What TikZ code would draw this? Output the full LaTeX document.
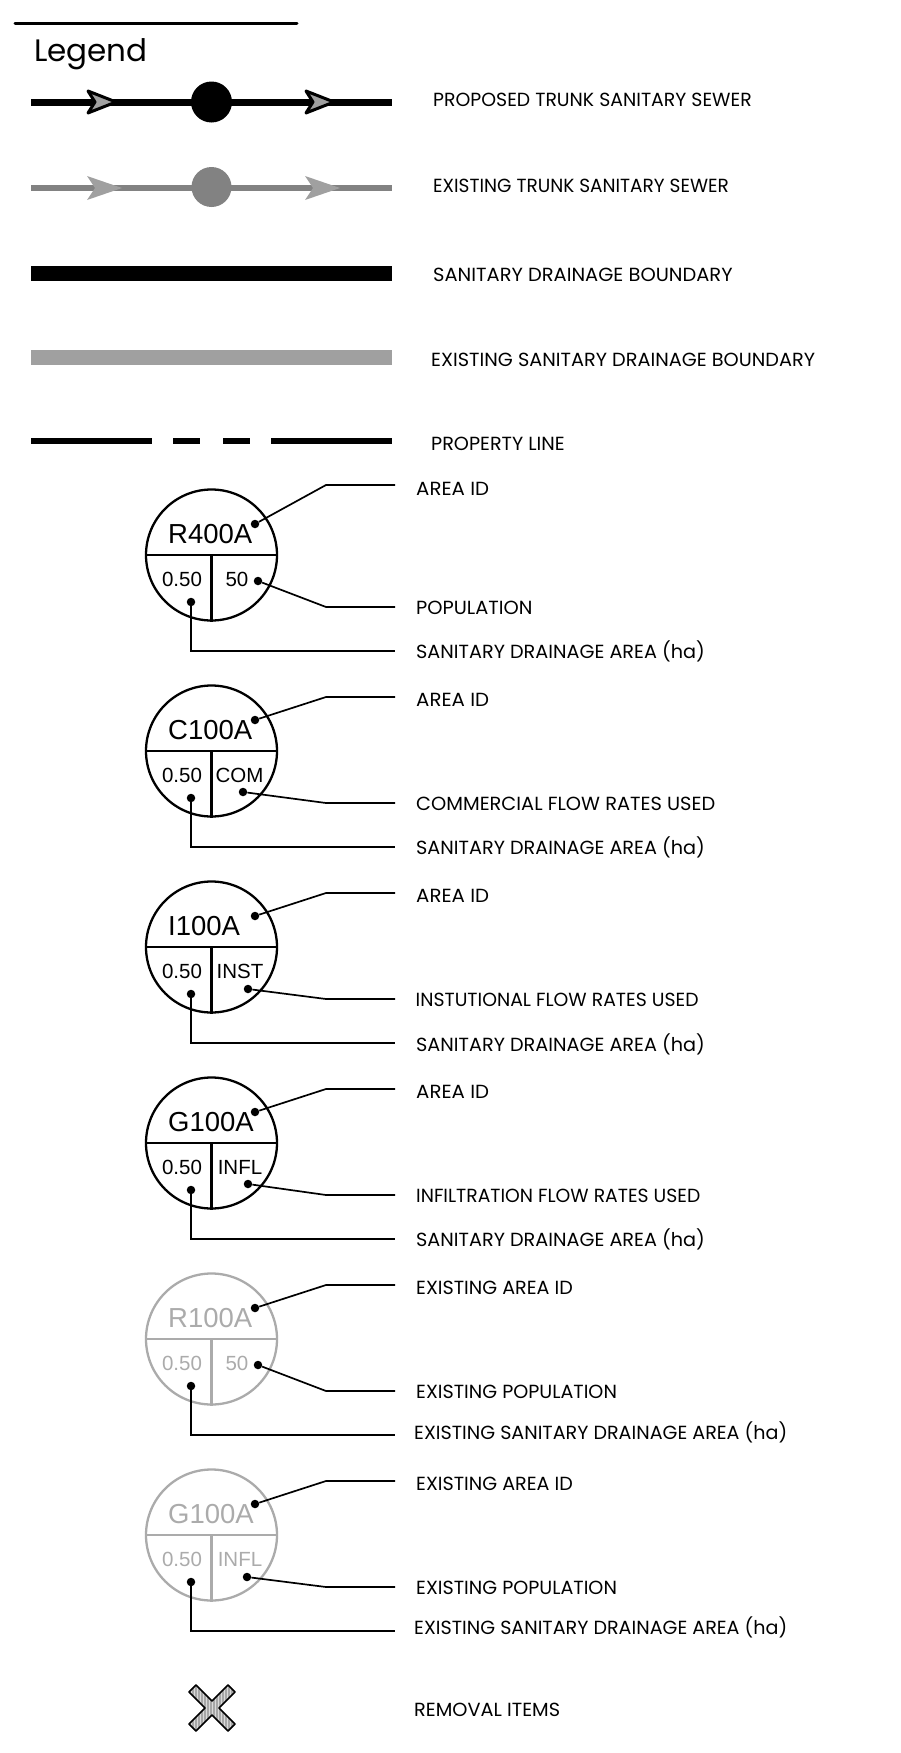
\documentclass[tikz,border=0pt]{standalone}
\usepackage{fontspec}
\setmainfont{Poppins}
\newfontfamily\symbfont{Liberation Sans}
\definecolor{exgray}{HTML}{828282}
\definecolor{lightgray}{HTML}{A0A0A0}
\definecolor{symbgray}{HTML}{ABABAB}
\tikzset{
  lab/.style={anchor=west,inner sep=0pt,font=\fontsize{19}{19}\selectfont},
  leader/.style={draw=black,line width=1.7pt},
  dotmark/.style={circle,fill=black,inner sep=0pt,minimum size=8.5pt},
  symbid/.style={anchor=west,inner sep=0pt,font=\symbfont\fontsize{27.5}{27.5}\selectfont},
  symbval/.style={inner sep=0pt,font=\symbfont\fontsize{20.5}{20.5}\selectfont},
  chevron/.style={line width=3pt,line join=round},
}
\begin{document}
\begin{tikzpicture}[x=1pt,y=-1pt]
\useasboundingbox (0,0) rectangle (900,1753);

% Titre
\draw [line width=3pt,line cap=round] (15,24) -- (297,24);
\node [anchor=base west,inner sep=0pt,font=\fontsize{31}{31}\selectfont] (title) at (34,62) {Legend};

% Trunk sewers
\coordinate (pl) at (31,102);  \coordinate (pr) at (392,102);
\coordinate (el) at (31,188);  \coordinate (er) at (392,188);
\draw [line width=7pt] (pl) -- (pr);
\draw [line width=6pt,exgray] (el) -- (er);
\node [circle,fill=black,inner sep=0pt,minimum size=41pt] (pmh) at (211.5,102) {};
\node [circle,fill=exgray,inner sep=0pt,minimum size=40pt] (emh) at (211.5,187) {};
\foreach \xsh in {0,218} {
\draw [xshift=\xsh,chevron,fill=lightgray] (88,91) -- (116,102) -- (88,113) -- (95,102) -- cycle;
\path [xshift=\xsh,fill=lightgray] (87,176) -- (122,188) -- (87,200) -- (95,188) -- cycle;
}

% Boundaries
\fill (31,266) rectangle (392,281);
\fill [lightgray] (31,350) rectangle (392,365);
\foreach \xa/\xb in {31/152,173/200,223/250,271/392}
\fill (\xa,438) rectangle (\xb,444);

% Symbols
\foreach \cy/\aid/\val/\vx/\col/\topy/\dx/\dy [count=\i] in {
  555/R400A/50/237/black/-70/258/26,
  751/C100A/COM/239.5/black/-54/243/41,
  947/I100A/INST/240/black/-54/248/42,
  1143/G100A/INFL/240/black/-54/248/41,
  1339/R100A/50/237/symbgray/-54/258/26,
  1535/G100A/INFL/240/symbgray/-54/247/42} {
\node [circle,draw=\col,line width=2.3pt,inner sep=0pt,minimum size=131pt] (sym\i) at (211.5,\cy) {};
\draw [\col,line width=2.3pt] (sym\i.west) -- (sym\i.east);
\draw [\col,line width=2.3pt] (sym\i.center) -- (sym\i.south);
\node [symbid,text=\col] (id\i) at (168,\cy-20.5) {\aid};
\node [symbval,text=\col] (area\i) at (182,\cy+24) {0.50};
\node [symbval,text=\col] (val\i) at (\vx,\cy+24) {\val};
\node [dotmark] (dota\i) at (255,\cy-31) {};
\node [dotmark] (dotb\i) at (\dx,\cy+\dy) {};
\node [dotmark] (dotc\i) at (191,\cy+47) {};
\coordinate (enda\i) at (395,\cy+\topy);
\coordinate (endb\i) at (395,\cy+52);
\coordinate (endc\i) at (395,\cy+96);
\draw [leader] (dota\i) -- (326,\cy+\topy) -- (enda\i);
\draw [leader] (dotb\i) -- (326,\cy+52) -- (endb\i);
\draw [leader] (dotc\i) |- (endc\i);
}

% Removal
\begin{scope}[shift={(212,1708)}]
\clip (-23.5,-16.5) -- (-16.5,-23.5) -- (0,-7) -- (16.5,-23.5) -- (23.5,-16.5) -- (7,0)
   -- (23.5,16.5) -- (16.5,23.5) -- (0,7) -- (-16.5,23.5) -- (-23.5,16.5) -- (-7,0) -- cycle;
\fill [gray!70] (-24,-24) rectangle (24,24);
\foreach \x in {-24,-21,...,24} \draw [white!70!gray,line width=0.8pt] (\x,-24) -- (\x,24);
\end{scope}
\draw [line width=1.5pt,line join=round] (212,1708) ++(-23,-16) -- ++(7,-7) -- ++(16,16) -- ++(16,-16) -- ++(7,7) -- ++(-16,16)
   -- ++(16,16) -- ++(-7,7) -- ++(-16,-16) -- ++(-16,16) -- ++(-7,-7) -- ++(16,-16) -- cycle;

% Labels
\foreach \lx/\ly/\xs/\txt [count=\i] in {
  433/99.5/.993/PROPOSED TRUNK SANITARY SEWER,
  433/185.5/.974/EXISTING TRUNK SANITARY SEWER,
  433/274/1.023/SANITARY DRAINAGE BOUNDARY,
  431/359/1.015/EXISTING SANITARY DRAINAGE BOUNDARY,
  431/443/1.01/PROPERTY LINE,
  416/488/1.04/AREA ID,
  416/607/1.02/POPULATION,
  416/651/1.012/SANITARY DRAINAGE AREA (ha),
  416/699/1.04/AREA ID,
  416/803/1.02/COMMERCIAL FLOW RATES USED,
  416/847/1.012/SANITARY DRAINAGE AREA (ha),
  416/895/1.04/AREA ID,
  415.5/999/.99/INSTUTIONAL FLOW RATES USED,
  416/1043.5/1.012/SANITARY DRAINAGE AREA (ha),
  416/1091.5/1.04/AREA ID,
  416/1195.5/.988/INFILTRATION FLOW RATES USED,
  416/1239/1.012/SANITARY DRAINAGE AREA (ha),
  416/1287/1.007/EXISTING AREA ID,
  416/1391/1.006/EXISTING POPULATION,
  414/1431.5/1.006/EXISTING SANITARY DRAINAGE AREA (ha),
  416/1483/1.007/EXISTING AREA ID,
  416/1587/1.006/EXISTING POPULATION,
  414/1627/1.006/EXISTING SANITARY DRAINAGE AREA (ha),
  414/1709/1.015/REMOVAL ITEMS}
\node [lab] (lab\i) at (\lx,\ly+0.8) {\scalebox{\xs}[1]{\txt}};

\end{tikzpicture}
\end{document}
